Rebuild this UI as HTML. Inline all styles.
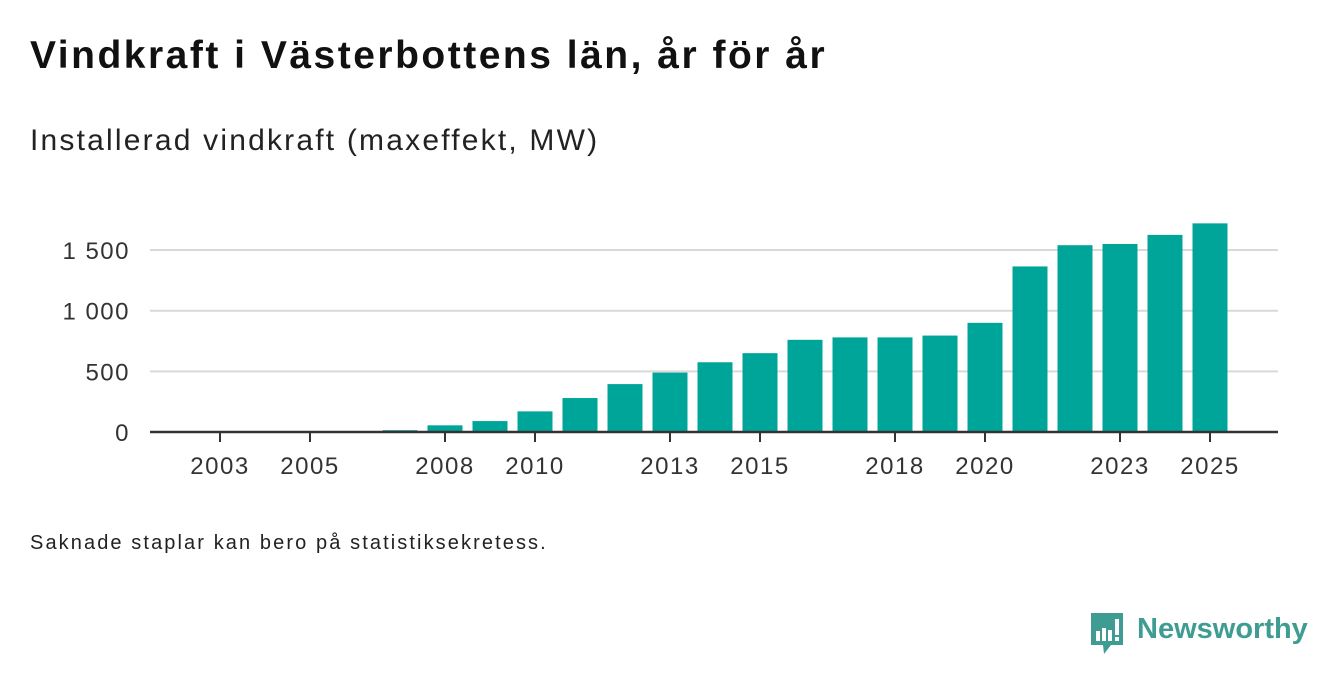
<!DOCTYPE html>
<html><head><meta charset="utf-8"><style>
body{margin:0;background:#fff;font-family:"Liberation Sans","DejaVu Sans",sans-serif;}
#root{position:relative;width:1340px;height:685px;overflow:hidden;}
.t{position:absolute;color:#111;white-space:nowrap;}
</style></head><body>
<div id="root">
<div class="t" style="left:30px;top:34px;font-size:39px;font-weight:bold;letter-spacing:2.5px;">Vindkraft i Västerbottens län, år för år</div>
<div class="t" style="left:30px;top:124px;font-size:30px;color:#222;letter-spacing:2.2px;">Installerad vindkraft (maxeffekt, MW)</div>
<svg id="chart" width="1340" height="685" style="position:absolute;left:0;top:0;"></svg>
<div class="t" style="left:30px;top:532px;font-size:20px;color:#222;letter-spacing:2.1px;">Saknade staplar kan bero på statistiksekretess.</div>
<div style="position:absolute;left:1089px;top:613px;">
<svg width="36" height="42" viewBox="0 0 36 42"><path d="M2 0H34V32H22L15 41L14 32H2Z" fill="#3e9c93"/><rect x="7" y="18" width="4" height="10" fill="#fff"/><rect x="13" y="15" width="4" height="13" fill="#fff"/><rect x="19" y="17" width="4" height="11" fill="#fff"/><rect x="26" y="6" width="4" height="16" fill="#fff"/><rect x="26" y="24" width="4" height="4" fill="#fff"/></svg>
<span style="position:absolute;left:48px;top:0px;font-size:29px;font-weight:bold;color:#3e9c93;">Newsworthy</span>
</div>
</div>
<script>
const years=[2003,2004,2005,2006,2007,2008,2009,2010,2011,2012,2013,2014,2015,2016,2017,2018,2019,2020,2021,2022,2023,2024,2025];
const values=[0,0,0,0,15,55,90,170,280,395,490,575,650,760,780,780,795,900,1365,1540,1550,1625,1720];
const yTicks=[0,500,1000,1500];
const yTickLabels=["0","500","1 000","1 500"];
const xTicks=[2003,2005,2008,2010,2013,2015,2018,2020,2023,2025];
const svg=document.getElementById('chart');
const NS='http://www.w3.org/2000/svg';
const x=yr=>220+(yr-2003)*45;
const y=v=>432-v*0.1213;
function mk(t,a){const e=document.createElementNS(NS,t);for(const k in a)e.setAttribute(k,a[k]);svg.appendChild(e);return e;}
yTicks.forEach((v,i)=>{
 if(v>0){const g=mk('line',{x1:150,x2:1278,y1:y(v),y2:y(v),stroke:'#d9d9d9','stroke-width':2});
 
 }
 const t=mk('text',{x:130,y:y(v)+9,'text-anchor':'end','font-size':24,fill:'#333','letter-spacing':1.5,'font-family':'Liberation Sans, sans-serif'});
 t.textContent=yTickLabels[i];
 
 
});
years.forEach((yr,i)=>{
 if(values[i]<=0)return;
 const r=mk('rect',{x:x(yr)-17.5,y:y(values[i]),width:35,height:432-y(values[i]),fill:'#00a59a'});
 
 
});
const ax=mk('line',{x1:150,x2:1278,y1:432,y2:432,stroke:'#333','stroke-width':2.5});


xTicks.forEach(yr=>{
 const l=mk('line',{x1:x(yr),x2:x(yr),y1:432,y2:442,stroke:'#333','stroke-width':2});
 
 
 const t=mk('text',{x:x(yr),y:474,'text-anchor':'middle','font-size':24,fill:'#333','letter-spacing':1.5,'font-family':'Liberation Sans, sans-serif'});
 t.textContent=yr;
 
 
});
</script>
</body></html>
